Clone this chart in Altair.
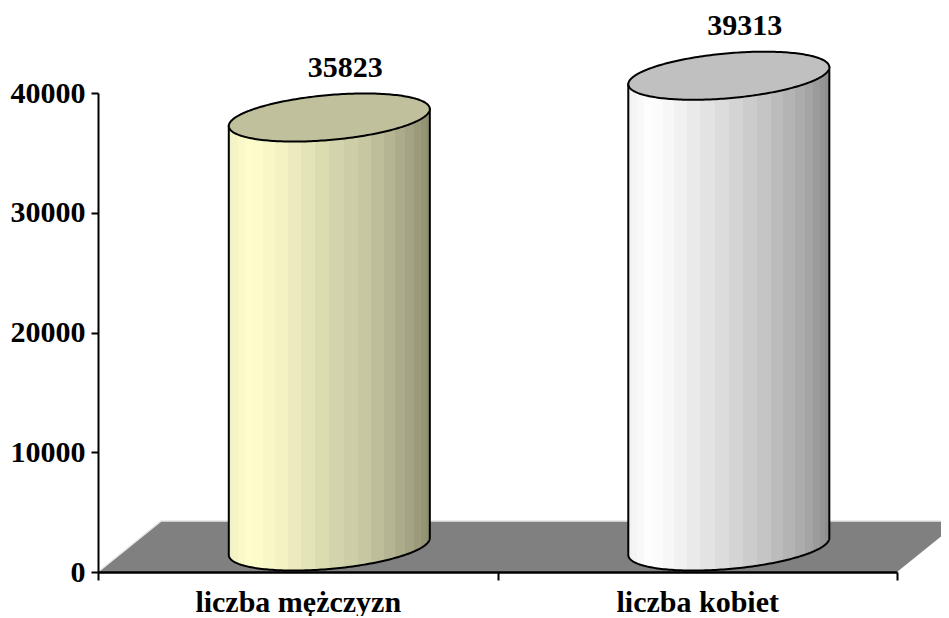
import altair as alt
import pandas as pd
import numpy as np

categories = ["liczba mężczyzn", "liczba kobiet"]
values = [35823, 39313]
y_ticks = [0, 10000, 20000, 30000, 40000]

top_colors = ["#C0C09C", "#C0C0C0"]
body_ramps = [
    [("#F0F0C4", 0.0), ("#FFFFCC", 0.12), ("#EEEEC0", 0.3), ("#D8D8AE", 0.5),
     ("#C4C4A0", 0.7), ("#A8A888", 0.88), ("#8C8C70", 1.0)],
    [("#F0F0F0", 0.0), ("#FFFFFF", 0.12), ("#EDEDED", 0.3), ("#D8D8D8", 0.5),
     ("#C2C2C2", 0.7), ("#A8A8A8", 0.88), ("#8C8C8C", 1.0)],
]

# 3-D style constants (projection of depth)
DX = 0.158      # depth shift along x (category units)
DY = 4259       # depth shift along y (value units)
HALF_W = 0.2516 # cylinder radius (category units)
B = 1879        # ellipse minor half-axis (value units)
K = 710         # ellipse tilt (value units)
N_BANDS = 22


def hex2rgb(h):
    return [int(h[i:i + 2], 16) for i in (1, 3, 5)]


def ramp_color(ramp, p):
    for (c0, o0), (c1, o1) in zip(ramp[:-1], ramp[1:]):
        if o0 <= p <= o1:
            f = (p - o0) / (o1 - o0)
            a, b = hex2rgb(c0), hex2rgb(c1)
            return "#%02X%02X%02X" % tuple(round(a[k] + (b[k] - a[k]) * f) for k in range(3))
    return ramp[-1][0]


def banded_stops(ramp):
    edges = [(1 - np.cos(np.pi * j / N_BANDS)) / 2 for j in range(N_BANDS + 1)]
    stops = []
    for e0, e1 in zip(edges[:-1], edges[1:]):
        c = ramp_color(ramp, (e0 + e1) / 2)
        stops.append(alt.GradientStop(color=c, offset=float(e0)))
        stops.append(alt.GradientStop(color=c, offset=float(e1)))
    return stops


rows = []
for xx, yy, yy2 in zip([0, DX, 2, 2 + DX], [0, DY, DY, DY], [0, 0, 0, DY]):
    rows.append(dict(part="floor", x=xx, y=yy, y2=yy2))
for xx, yy in zip([0, DX, 2 + DX], [0, DY, DY]):
    rows.append(dict(part="edge", x=xx, y=yy, y2=yy))

t = np.linspace(0, np.pi, 121)
for i, v in enumerate(values):
    cx = i + 0.5 + DX / 2
    xs = cx + HALF_W * np.cos(t)
    ctop = v + DY / 2
    cbot = DY / 2
    for xx, tt in zip(xs, t):
        rows.append(dict(part=f"body{i}", x=xx,
                         y=ctop + K * np.cos(tt),
                         y2=cbot + K * np.cos(tt) - B * np.sin(tt)))
        rows.append(dict(part=f"top{i}", x=xx,
                         y=ctop + K * np.cos(tt) + B * np.sin(tt),
                         y2=ctop + K * np.cos(tt) - B * np.sin(tt)))

df = pd.DataFrame(rows)
lab_df = pd.DataFrame({
    "x": [i + 0.5 + DX / 2 + 0.04 for i in range(len(values))],
    "y": values,
    "label": [str(v) for v in values],
})

FONT = "Liberation Serif"
FS = 30

x_axis = alt.Axis(
    values=[0, 0.5, 1, 1.5, 2],
    labelExpr="datum.value == 0.5 ? 'liczba mężczyzn' : datum.value == 1.5 ? 'liczba kobiet' : ''",
    title=None, grid=False,
    domainColor="black", domainWidth=2.5,
    tickColor="black", tickWidth=2, tickSize=8,
    tickOpacity={"condition": {"test": "datum.value % 1 != 0", "value": 0}, "value": 1},
    labelFont=FONT, labelFontSize=FS, labelFontWeight="bold", labelColor="black",
    labelPadding=7, labelOverlap=False, labelFlush=False, labelLimit=0, zindex=1,
)
y_axis = alt.Axis(
    values=y_ticks, format="d", title=None, grid=False,
    domainColor="black", domainWidth=2,
    tickColor="black", tickWidth=2, tickSize=7,
    labelFont=FONT, labelFontSize=FS, labelFontWeight="bold", labelColor="black",
    labelPadding=6, zindex=1,
)

X = alt.X("x:Q", scale=alt.Scale(domain=[0, 2], nice=False, zero=False), axis=x_axis)
Y = alt.Y("y:Q", scale=alt.Scale(domain=[0, 40000], nice=False), axis=y_axis)

base = alt.Chart(df).encode(x=X, y=Y, y2="y2:Q")

layers = [
    base.transform_filter(alt.datum.part == "floor").mark_area(fill="#808080", opacity=1),
    alt.Chart(df).transform_filter(alt.datum.part == "edge").mark_line(
        color="#E8E8E8", strokeWidth=1.5).encode(x=X, y=Y),
]
for i in range(len(values)):
    grad = alt.Gradient(gradient="linear", stops=banded_stops(body_ramps[i]),
                        x1=0, x2=1, y1=0, y2=0)
    layers.append(base.transform_filter(alt.datum.part == f"body{i}").mark_area(
        fill=grad, stroke="black", strokeWidth=2, opacity=1))
    layers.append(base.transform_filter(alt.datum.part == f"top{i}").mark_area(
        fill=top_colors[i], stroke="black", strokeWidth=2, opacity=1))

layers.append(alt.Chart(lab_df).mark_text(
    font=FONT, fontSize=FS, fontWeight="bold", color="black",
    baseline="alphabetic", align="center", dy=-66,
).encode(x=X, y=Y, text="label:N"))

chart = alt.layer(*layers).properties(
    width=799, height=479,
    autosize=alt.AutoSizeParams(type="none"),
    padding={"left": 90, "top": 85, "right": 44, "bottom": 44},
).configure_view(stroke=None)

chart.save("out.html", embed_options={"renderer": "svg", "actions": False})
